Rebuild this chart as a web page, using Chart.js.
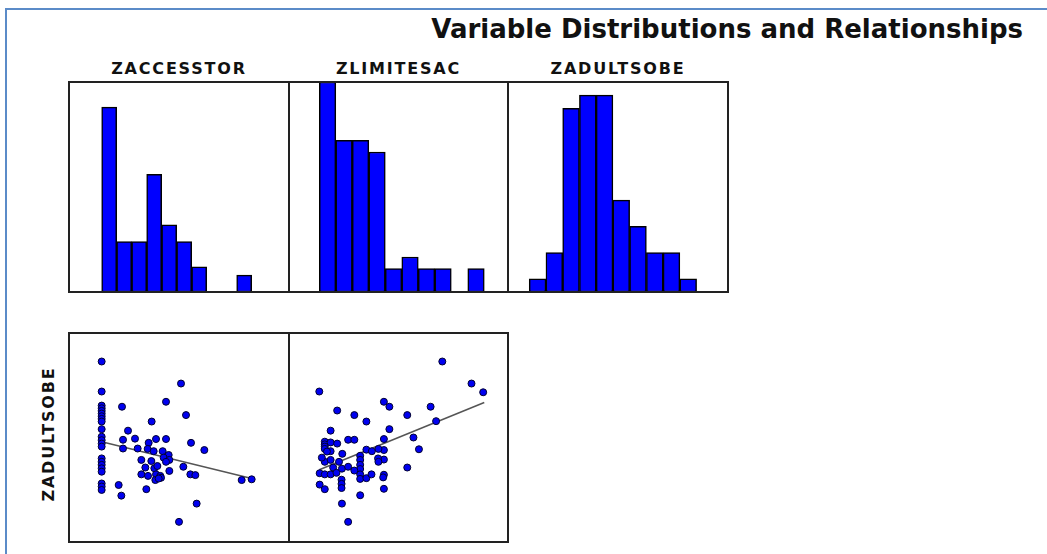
<!DOCTYPE html>
<html>
<head>
<meta charset="utf-8">
<script src="https://cdn.jsdelivr.net/npm/chart.js@4.4.0/dist/chart.umd.min.js"></script>
<style>
  body { margin: 0; width: 1047px; height: 554px; overflow: hidden; position: relative; background: #fff; font-family: "DejaVu Sans", Verdana, sans-serif; color: #111; }
  .frame { position: absolute; left: 5px; top: 8px; right: -20px; bottom: -20px; border-top: 2px solid #5b8bc8; border-left: 2px solid #5b8bc8; }
  .title { position: absolute; right: 24px; top: 16px; font-size: 26px; line-height: 26px; font-weight: bold; white-space: nowrap; }
  .lab { position: absolute; font-size: 16px; line-height: 16px; font-weight: bold; letter-spacing: 1.8px; text-align: center; white-space: nowrap; }
  canvas { position: absolute; }
</style>
</head>
<body>
<div class="frame"></div>
<div class="title">Variable Distributions and Relationships</div>
<div class="lab" style="left:69px;top:61px;width:220px">ZACCESSTOR</div>
<div class="lab" style="left:289px;top:61px;width:219px">ZLIMITESAC</div>
<div class="lab" style="left:508px;top:61px;width:220px">ZADULTSOBE</div>
<div class="lab" style="left:-56px;top:426px;width:210px;transform:rotate(-90deg)">ZADULTSOBE</div>

<canvas id="h1" width="222" height="212" style="left:68px;top:81px"></canvas>
<canvas id="h2" width="221" height="212" style="left:288px;top:81px"></canvas>
<canvas id="h3" width="222" height="212" style="left:507px;top:81px"></canvas>
<canvas id="s1" width="222" height="211" style="left:68px;top:332px"></canvas>
<canvas id="s2" width="221" height="211" style="left:288px;top:332px"></canvas>

<script>
// histogram counts, 10 bins each
const accCounts = [22, 6, 6, 14, 8, 6, 3, 0, 0, 2]
const limCounts = [18, 13, 13, 12, 2, 3, 2, 2, 0, 2]
const aduCounts = [1, 3, 14, 15, 15, 7, 5, 3, 3, 1]

// first bin edge and bin width (z units)
const accBins = [-1.02, 0.45]
const limBins = [-1.17, 0.452]
const aduBins = [-1.97, 0.4185]

// ZACCESSTOR vs ZADULTSOBE
const accX = [
  -1.02, -1.02, -1.02, -1.02, -1.02, -1.02, -1.02, -1.02, -1.02, -1.02, -1.02,
  -1.02, -1.02, -1.02, -1.02, -1.02, -1.02, -1.02, -1.02, -1.02, -1.02, -1.02,
  1.36, -0.41, 0.91, 0.48, -0.23, -0.38, -0.02, -0.38, 0.06, 0.39, 0.61,
  0.91, 0.36, 0.54, 0.81, 0.99, 0.84, 1.01, 0.17, 0.47, 0.91, 0.29,
  0.56, 1.01, 0.17, 0.37, 0.61, 0.74, 0.76, 0.59, 0.69, -0.51, -0.43,
  0.32, 1.30, 1.51, 1.66, 2.06, 1.43, 1.64, 1.79, 3.18, 3.48, 1.83, 0.65
]
const accAduY = [
  2.25, 1.46, 1.09, 1.02, 0.95, 0.88, 0.81, 0.74, 0.67, 0.47, 0.27,
  0.18, 0.09, 0.01, -0.30, -0.39, -0.47, -0.56, -0.65, -0.96, -1.04, -1.13,
  1.67, 1.06, 1.19, 0.67, 0.43, 0.19, 0.22, -0.04, -0.04, 0.11, 0.21,
  0.21, -0.05, -0.11, -0.11, -0.21, -0.28, -0.34, -0.34, -0.37, -0.39, -0.54,
  -0.56, -0.63, -0.72, -0.76, -0.72, -0.76, -0.81, -0.87, -0.83, -1.00, -1.28,
  -1.11, -1.97, 0.84, 0.11, -0.08, -0.52, -0.72, -0.74, -0.87, -0.85, -1.49, -0.50
]

// ZLIMITESAC vs ZADULTSOBE
const limX = [
  -1.17, -1.02, -1.02, -1.02, -1.02, -0.86, -0.86, -1.02, -0.86, -0.86, -1.16,
  -1.02, -0.86, -1.16, -1.02, -1.10, -0.96, -0.79,
  -0.68, -0.68, -0.70, -0.54, -0.55, -0.38, -0.38, -0.56, -0.56, -0.56, -0.55, -0.38, -0.63,
  -0.05, -0.05, -0.05, -0.05, -0.05, -0.05, -0.05, -0.21, -0.21, -0.21, 0.12, 0.12, 0.12,
  0.60, 0.60, 0.60, 0.60, 0.60, 0.58, 0.60, 0.45, 0.44, 0.45, 0.27, 0.26,
  0.75, 0.75, 1.24, 1.24, 1.41, 1.56, 1.88, 2.03, 2.20, 3.00, 3.32
]
const limAduY = [
  1.46, 0.14, 0.07, 0.01, -0.05, 0.12, -0.11, -0.39, -0.34, 0.43, -0.69,
  -0.72, -0.72, -0.99, -1.11, -0.28, -0.12, -0.54,
  0.96, 0.09, -0.68, -0.18, -0.57, -0.52, 0.19, -0.86, -0.97, -1.08, -1.49, -1.97, -0.39,
  -0.23, -0.34, -0.47, -0.58, -0.72, -0.84, -1.27, 0.84, 0.19, -0.62, 0.67, -0.07, -0.82,
  1.19, 0.21, -0.08, -0.33, -0.73, -0.80, -1.10, -0.05, -0.30, -0.39, -0.11, -0.72,
  1.06, 0.47, 0.84, -0.54, 0.25, -0.06, 1.06, 0.68, 2.25, 1.67, 1.44
]

// fit lines (end points)
const fit1X = [-1.02, 3.48]
const fit1Y = [0.14, -0.83]
const fit2X = [-1.17, 3.35]
const fit2Y = [-0.60, 1.17]

const frameBorder = {
  id: 'frameBorder',
  afterDraw(chart) {
    const c = chart.ctx
    c.save()
    c.strokeStyle = '#222'
    c.lineWidth = 2
    c.strokeRect(1, 1, chart.width - 2, chart.height - 2)
    c.restore()
  }
}

const baseOptions = {
  responsive: false,
  animation: false,
  layout: { padding: 1, autoPadding: false },
  plugins: { legend: { display: false }, tooltip: { enabled: false } }
}

function histogram(id, counts, bins, xMin, xMax, yMax) {
  const pts = counts.map((c, i) => ({ x: bins[0] + (i + 0.5) * bins[1], y: c }))
  new Chart(document.getElementById(id), {
    type: 'bar',
    data: {
      datasets: [{
        data: pts,
        backgroundColor: '#0000ff',
        borderColor: '#000',
        borderWidth: 1.5,
        borderSkipped: false,
        barThickness: 'flex',
        barPercentage: 1,
        categoryPercentage: 1
      }]
    },
    options: {
      ...baseOptions,
      scales: {
        x: { type: 'linear', min: xMin, max: xMax, offset: false, display: false },
        y: { min: 0, max: yMax, display: false }
      }
    },
    plugins: [frameBorder]
  })
}

function scatter(id, xs, ys, fx, fy, xMin, xMax) {
  new Chart(document.getElementById(id), {
    type: 'scatter',
    data: {
      datasets: [{
        data: xs.map((x, i) => ({ x: x, y: ys[i] })),
        pointRadius: 3.5,
        pointBackgroundColor: '#0000f0',
        pointBorderColor: '#000030',
        pointBorderWidth: 1
      },
      {
        type: 'line',
        data: fx.map((x, i) => ({ x: x, y: fy[i] })),
        borderColor: '#555',
        borderWidth: 1.5,
        pointRadius: 0,
        showLine: true
      }]
    },
    options: {
      ...baseOptions,
      scales: {
        x: { type: 'linear', min: xMin, max: xMax, display: false },
        y: { type: 'linear', min: -2.5, max: 3.0, display: false }
      }
    },
    plugins: [frameBorder]
  })
}

histogram('h1', accCounts, accBins, -2.0, 4.6, 25)
histogram('h2', limCounts, limBins, -2.0, 4.0, 18)
histogram('h3', aduCounts, aduBins, -2.5, 3.0, 16)
scatter('s1', accX, accAduY, fit1X, fit1Y, -2.0, 4.6)
scatter('s2', limX, limAduY, fit2X, fit2Y, -2.0, 4.0)
</script>
</body>
</html>
